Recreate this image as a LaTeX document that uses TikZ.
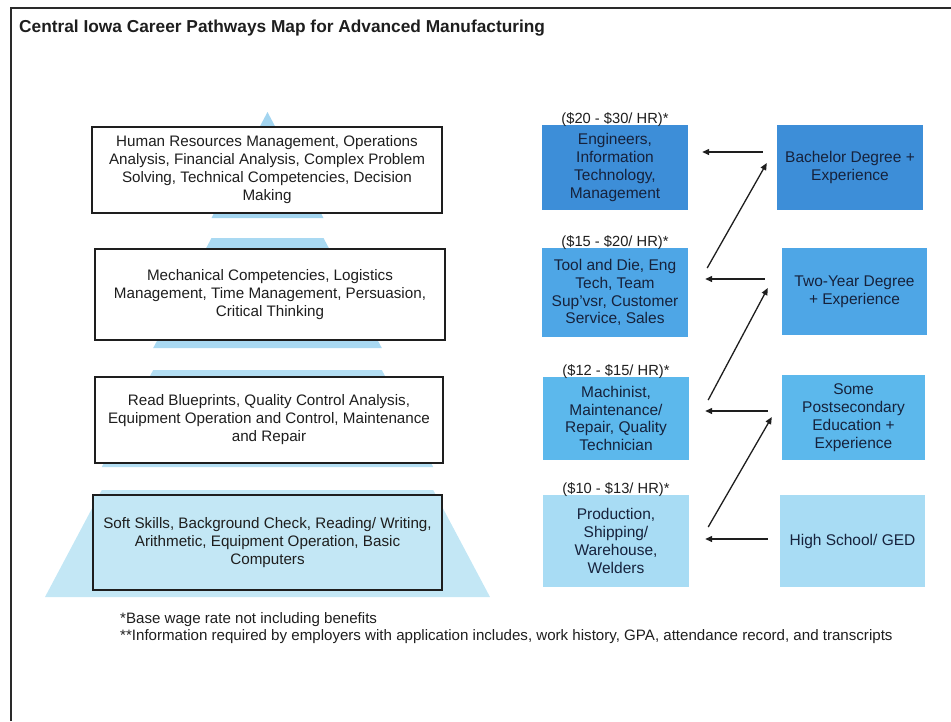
\documentclass[tikz,border=0pt]{standalone}
\usepackage{fontspec}
\setmainfont{Liberation Sans}
\usetikzlibrary{arrows.meta}
\definecolor{frameC}{HTML}{2A2A2A}
\definecolor{pyrA}{HTML}{A3D5F0}
\definecolor{pyrB}{HTML}{A9D9F2}
\definecolor{pyrC}{HTML}{B3DEF3}
\definecolor{pyrD}{HTML}{C3E7F5}
\definecolor{rowA}{HTML}{3D8ED8}
\definecolor{rowB}{HTML}{4EA6E6}
\definecolor{rowC}{HTML}{5CB8EC}
\definecolor{rowD}{HTML}{A8DCF4}
\definecolor{navy}{HTML}{16223C}
\definecolor{inkC}{HTML}{1E1E1E}
\tikzset{
  lbox/.style={draw=inkC, line width=1.4pt, fill=white, rectangle, inner sep=0pt, align=center,
    text=inkC, font=\fontsize{15.2}{18}\selectfont},
  jbox/.style={rectangle, inner sep=0pt, align=center, text=navy,
    font=\fontsize{15.5}{17.8}\selectfont, minimum width=146pt},
  wage/.style={inner sep=0pt, anchor=base, text=inkC, font=\fontsize{14.7}{16}\selectfont},
  arr/.style={draw=inkC, line width=1.3pt, -{Triangle[length=7pt,width=6pt]}},
  note/.style={inner sep=0pt, anchor=base west, text=inkC, font=\fontsize{15.1}{17}\selectfont}
}
\begin{document}
\begin{tikzpicture}[x=1pt,y=-1pt]
\useasboundingbox (0,0) rectangle (951,721);
% frame
\draw[frameC, line width=2.5pt] (11,721) -- (11,8) -- (951,8);
% title
\node[inner sep=0pt, anchor=base west, text=inkC, font=\fontsize{17.3}{20}\selectfont\bfseries] (title) at (19,32)
  {Central Iowa Career Pathways Map for Advanced Manufacturing};
% pyramid: segments of one triangle pushed apart
\fill[pyrA] (267.5,112) -- (323.5,218) -- (211.5,218) -- cycle;
\fill[pyrB] (211.5,238) -- (323.5,238) -- (381.8,348) -- (153.2,348) -- cycle;
\fill[pyrC] (153.2,370) -- (381.8,370) -- (433.2,467) -- (101.8,467) -- cycle;
\fill[pyrD] (101.8,490) -- (433.2,490) -- (490,597) -- (45,597) -- cycle;
% left boxes
\node[lbox, minimum width=350pt, minimum height=86pt] (L1) at (267,170)
  {Human Resources Management, Operations\\Analysis, Financial Analysis, Complex Problem\\Solving, Technical Competencies, Decision\\Making};
\node[lbox, minimum width=350pt, minimum height=91pt] (L2) at (270,294.5)
  {Mechanical Competencies, Logistics\\Management, Time Management, Persuasion,\\Critical Thinking};
\node[lbox, minimum width=348pt, minimum height=86pt] (L3) at (269,420)
  {Read Blueprints, Quality Control Analysis,\\Equipment Operation and Control, Maintenance\\and Repair};
\node[lbox, fill=pyrD, minimum width=349pt, minimum height=95pt] (L4) at (267.5,542.5)
  {Soft Skills, Background Check, Reading/ Writing,\\Arithmetic, Equipment Operation, Basic\\Computers};
% job boxes
\node[jbox, fill=rowA, minimum height=85pt] (J1) at (615,167.5)
  {Engineers,\\Information\\Technology,\\Management};
\node[jbox, fill=rowB, minimum height=89pt] (J2) at (615,292.5)
  {Tool and Die, Eng\\Tech, Team\\Sup'vsr, Customer\\Service, Sales};
\node[jbox, fill=rowC, minimum height=83pt] (J3) at (616,418.5)
  {Machinist,\\Maintenance/\\Repair, Quality\\Technician};
\node[jbox, fill=rowD, minimum height=92pt] (J4) at (616,541)
  {Production,\\Shipping/\\Warehouse,\\Welders};
% wage labels
\node[wage] (W1) at ([yshift=1.5pt]J1.north) {(\$20 - \$30/ HR)*};
\node[wage] (W2) at ([yshift=1.5pt]J2.north) {(\$15 - \$20/ HR)*};
\node[wage] (W3) at ([yshift=1.5pt]J3.north) {(\$12 - \$15/ HR)*};
\node[wage] (W4) at ([yshift=1.5pt]J4.north) {(\$10 - \$13/ HR)*};
% education boxes
\node[jbox, fill=rowA, minimum height=85pt] (R1) at (850,167.5)
  {Bachelor Degree +\\Experience};
\node[jbox, fill=rowB, minimum width=145pt, minimum height=87pt] (R2) at (854.5,291.5)
  {Two-Year Degree\\+ Experience};
\node[jbox, fill=rowC, minimum width=143pt, minimum height=85pt] (R3) at (853.5,417.5)
  {Some\\Postsecondary\\Education +\\Experience};
\node[jbox, fill=rowD, minimum width=145pt, minimum height=92pt] (R4) at (852.5,541)
  {High School/ GED};
% horizontal arrows
\draw[arr] ([xshift=-14pt,yshift=15.5pt]R1.west) -- ([xshift=14pt,yshift=15.5pt]J1.east);
\draw[arr] ([xshift=-17pt,yshift=12.5pt]R2.west) -- ([xshift=17pt,yshift=13.5pt]J2.east);
\draw[arr] ([xshift=-14pt,yshift=6.5pt]R3.west) -- ([xshift=16pt,yshift=7.5pt]J3.east);
\draw[arr] ([xshift=-12pt,yshift=2pt]R4.west) -- ([xshift=16pt,yshift=2pt]J4.east);
% diagonal arrows
\draw[arr] ([xshift=19pt,yshift=24.5pt]J2.east) -- ([xshift=-10pt,yshift=4.5pt]R1.west);
\draw[arr] ([xshift=19pt,yshift=18.5pt]J3.east) -- ([xshift=-14pt,yshift=3.5pt]R2.west);
\draw[arr] ([xshift=19pt,yshift=14pt]J4.east) -- ([xshift=-10pt,yshift=0.5pt]R3.west);
% notes
\node[note] (N1) at (120,623) {*Base wage rate not including benefits};
\node[note] (N2) at (120,640) {**Information required by employers with application includes, work history, GPA, attendance record, and transcripts};
\end{tikzpicture}
\end{document}
